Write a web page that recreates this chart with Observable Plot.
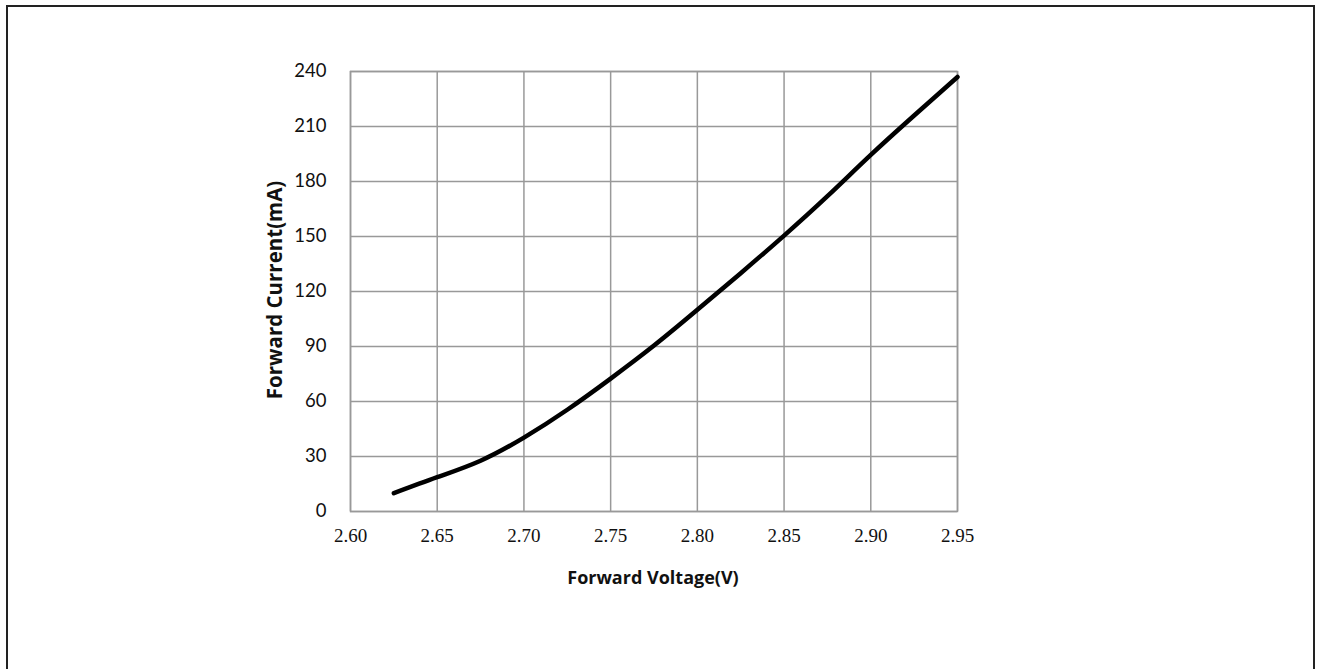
<!DOCTYPE html>
<html>
<head>
<meta charset="utf-8">
<script src="https://cdn.jsdelivr.net/npm/d3@7"></script>
<script src="https://cdn.jsdelivr.net/npm/@observablehq/plot@0.6"></script>
<style>
  html, body { margin: 0; padding: 0; background: #fff; }
  #wrap { position: relative; width: 1320px; height: 669px; overflow: hidden; }
  #frame { position: absolute; left: 6px; top: 5px; width: 1309px; height: 700px; border: 2px solid #222; box-sizing: border-box; pointer-events: none; }
  #chart svg { position: absolute; left: 0; top: 0; }
</style>
</head>
<body>
<div id="wrap"><div id="chart"></div><div id="frame"></div></div>
<script>
const voltage = [2.625, 2.65, 2.675, 2.70, 2.725, 2.75, 2.775, 2.80, 2.825, 2.85, 2.875, 2.90, 2.925, 2.95];
const current = [10, 18.7, 27.7, 40.3, 55.5, 72.5, 90.5, 110, 130, 150.5, 172, 194.5, 216, 237];
const xTicks = [2.60, 2.65, 2.70, 2.75, 2.80, 2.85, 2.90, 2.95];
const yTicks = [0, 30, 60, 90, 120, 150, 180, 210, 240];
const xTitle = "Forward Voltage(V)";
const yTitle = "Forward Current(mA)";

const data = voltage.map((v, i) => ({v, c: current[i]}));

const chart = Plot.plot({
  width: 1320,
  height: 669,
  marginLeft: 350,
  marginRight: 363,
  marginTop: 71,
  marginBottom: 158,
  x: {domain: [2.60, 2.95], ticks: xTicks, tickFormat: d => d.toFixed(2), label: null},
  y: {domain: [0, 240], ticks: yTicks, label: null},
  style: {background: "#fff"},
  marks: [
    Plot.gridX(xTicks, {stroke: "#999", strokeOpacity: 1, strokeWidth: 1.5}),
    Plot.gridY(yTicks, {stroke: "#999", strokeOpacity: 1, strokeWidth: 1.5}),
    Plot.frame({stroke: "#999", strokeWidth: 1.5}),
    Plot.axisX(xTicks, {tickSize: 0, tickPadding: 17, fontFamily: "Liberation Serif", fontSize: 19, fill: "#111", tickFormat: d => d.toFixed(2)}),
    Plot.axisY(yTicks, {tickSize: 0, tickPadding: 24, fontFamily: "Lato", fontSize: 18.5, fill: "#111"}),
    Plot.line(data, {x: "v", y: "c", stroke: "#000", strokeWidth: 4.5, curve: "natural", strokeLinecap: "round"})
  ]
});

const svg = d3.select(chart);
svg.append("text")
  .attr("x", 653).attr("y", 584)
  .attr("text-anchor", "middle")
  .attr("font-family", "Open Sans").attr("font-weight", "bold").attr("font-size", 18)
  .attr("fill", "#111")
  .text(xTitle);
svg.append("text")
  .attr("transform", "translate(282,290) rotate(-90)")
  .attr("text-anchor", "middle")
  .attr("font-family", "Open Sans").attr("font-weight", "bold").attr("font-size", 20.5)
  .attr("fill", "#111")
  .text(yTitle);

document.getElementById("chart").appendChild(chart);
</script>
</body>
</html>
